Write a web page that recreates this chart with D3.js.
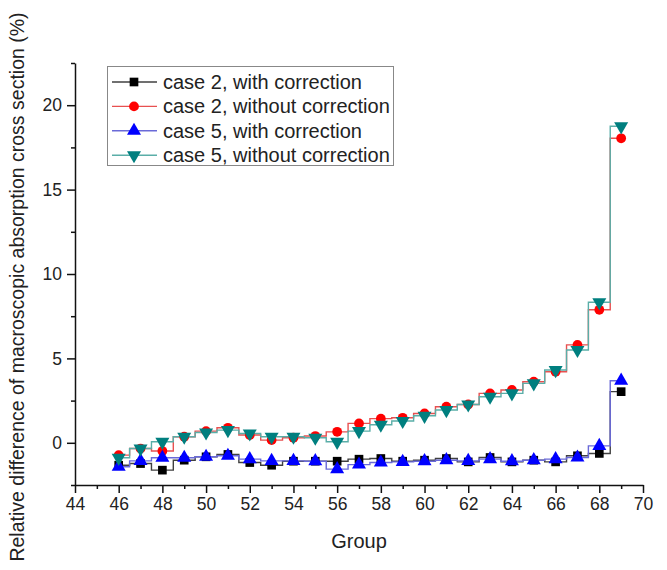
<!doctype html>
<html>
<head>
<meta charset="utf-8"/>
<title>Relative difference of macroscopic absorption cross section</title>
<script src="https://d3js.org/d3.v7.min.js"></script>
<style>
  body { margin: 0; background: #fff; }
  text { font-family: "Liberation Sans", Arial, sans-serif; }
</style>
</head>
<body>
<div id="chart"></div>
<script>
// groups 46..69
var groups = [46,47,48,49,50,51,52,53,54,55,56,57,58,59,60,61,62,63,64,65,66,67,68,69];

var case2With    = [-1.33,-1.23,-1.62,-1.03,-0.83,-0.69,-1.17,-1.33,-1.09,-1.09,-1.09,-0.97,-0.93,
                    -1.09,-1.03,-0.93,-1.13,-0.87,-1.13,-1.03,-1.13,-0.77,-0.63,3.03];
var case2Without = [-0.73,-0.34,-0.49,0.36,0.69,0.89,0.46,0.16,0.30,0.40,0.65,1.15,1.43,
                    1.48,1.74,2.14,2.27,2.93,3.13,3.62,4.21,5.80,7.88,18.04];
var case5With    = [-1.42,-1.07,-0.89,-0.89,-0.83,-0.77,-0.97,-1.07,-1.07,-1.09,-1.56,-1.29,-1.17,
                    -1.13,-1.09,-1.03,-1.07,-0.97,-1.09,-1.03,-0.97,-0.87,-0.18,3.68];
var case5Without = [-0.89,-0.34,0.06,0.36,0.61,0.75,0.55,0.36,0.36,0.30,0.06,0.69,1.07,
                    1.29,1.60,1.94,2.27,2.73,2.93,3.52,4.31,5.50,8.33,18.75];

var seriesNames = ["case 2, with correction", "case 2, without correction",
                   "case 5, with correction", "case 5, without correction"];

var xMajor = [44,46,48,50,52,54,56,58,60,62,64,66,68,70];
var yMajor = [0,5,10,15,20];

var series = [
  {name: seriesNames[0], values: case2With,    mark: "#000000", line: "#404040", shape: "square"},
  {name: seriesNames[1], values: case2Without, mark: "#ff0000", line: "#e85050", shape: "circle"},
  {name: seriesNames[2], values: case5With,    mark: "#0000ff", line: "#6a6ad8", shape: "up"},
  {name: seriesNames[3], values: case5Without, mark: "#007f7f", line: "#5aaea8", shape: "down"}
];

var W = 667, H = 570;
var svg = d3.select("#chart").append("svg")
    .attr("width", W)
    .attr("height", H);

var x = d3.scaleLinear().domain([44, 70]).range([75, 643]);
var y = d3.scaleLinear().domain([-2.5, 22.5]).range([485, 63]);

// minor ticks
var xMinor = d3.range(45, 70, 2);
var yMinor = [-2.5, 2.5, 7.5, 12.5, 17.5, 22.5];

svg.append("g")
    .attr("transform", "translate(0," + y(-2.5) + ")")
    .call(d3.axisBottom(x).tickValues(xMinor).tickSize(4).tickFormat(""))
    .call(function(g){ g.select(".domain").remove(); });
svg.append("g")
    .attr("transform", "translate(" + x(44) + ",0)")
    .call(d3.axisLeft(y).tickValues(yMinor).tickSize(4).tickFormat(""))
    .call(function(g){ g.select(".domain").remove(); });

svg.append("g")
    .attr("transform", "translate(0," + y(-2.5) + ")")
    .call(d3.axisBottom(x).tickValues(xMajor).tickSize(8).tickSizeOuter(0).tickPadding(5));
svg.append("g")
    .attr("transform", "translate(" + x(44) + ",0)")
    .call(d3.axisLeft(y).tickValues(yMajor).tickSize(8).tickSizeOuter(0).tickPadding(5));

svg.selectAll(".tick text").attr("font-size", 17.5).attr("fill", "#222")
    .style("font-family", "'Liberation Sans', Arial, sans-serif");
svg.selectAll(".domain, .tick line").attr("stroke", "#111").attr("stroke-width", 1.5);

svg.append("text")
    .attr("x", (x(44) + x(70)) / 2)
    .attr("y", 548)
    .attr("text-anchor", "middle")
    .attr("font-size", 20)
    .attr("fill", "#222")
    .text("Group");

svg.append("text")
    .attr("transform", "translate(24," + 287 + ") rotate(-90)")
    .attr("text-anchor", "middle")
    .attr("font-size", 19.5)
    .attr("fill", "#222")
    .text("Relative difference of macroscopic absorption cross section (%)");

function symbolFor(shape) {
  if (shape === "square") return d3.symbol().type(d3.symbolSquare).size(75)();
  if (shape === "circle") return d3.symbol().type(d3.symbolCircle).size(75)();
  return d3.symbol().type(d3.symbolTriangle).size(85)();
}

var line = d3.line()
    .x(function(d){ return x(d[0]); })
    .y(function(d){ return y(d[1]); })
    .curve(d3.curveStep);

series.forEach(function(s) {
  var pts = groups.map(function(g, i){ return [g, s.values[i]]; });
  svg.append("path")
      .datum(pts)
      .attr("d", line)
      .attr("fill", "none")
      .attr("stroke", s.line)
      .attr("stroke-width", 1.4);
});

series.forEach(function(s) {
  var pts = groups.map(function(g, i){ return [g, s.values[i]]; });
  svg.append("g").selectAll("path")
      .data(pts)
      .enter().append("path")
      .attr("d", symbolFor(s.shape))
      .attr("transform", function(d){
        return "translate(" + x(d[0]) + "," + y(d[1]) + ")" + (s.shape === "down" ? " rotate(180)" : "");
      })
      .attr("fill", s.mark);
});

// legend
var lg = svg.append("g");
lg.append("rect")
    .attr("x", 107.5).attr("y", 66.5)
    .attr("width", 286).attr("height", 99)
    .attr("fill", "#fff")
    .attr("stroke", "#888")
    .attr("stroke-width", 1);

series.forEach(function(s, i) {
  var ry = 82 + i * 24.4;
  lg.append("line")
      .attr("x1", 112).attr("x2", 157)
      .attr("y1", ry).attr("y2", ry)
      .attr("stroke", s.line)
      .attr("stroke-width", 1.4);
  lg.append("path")
      .attr("d", symbolFor(s.shape))
      .attr("transform", "translate(134," + ry + ")" + (s.shape === "down" ? " rotate(180)" : ""))
      .attr("fill", s.mark);
  lg.append("text")
      .attr("x", 163)
      .attr("y", ry)
      .attr("dy", "0.35em")
      .attr("font-size", 20)
      .attr("fill", "#222")
      .text(s.name);
});
</script>
</body>
</html>
